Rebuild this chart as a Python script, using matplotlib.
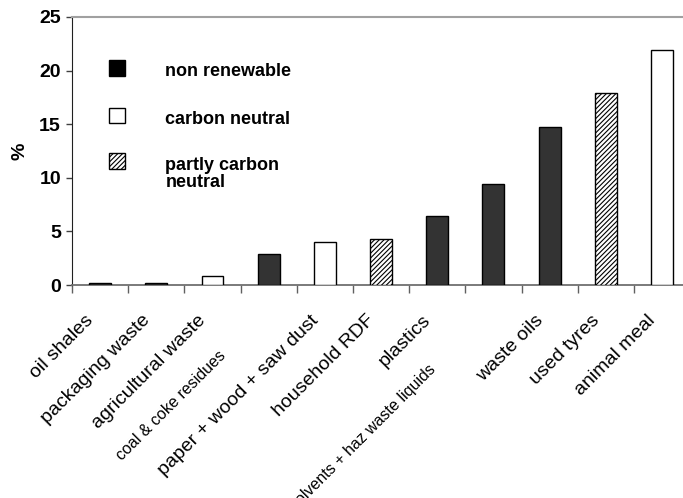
"""bar chart of alternative fuel shares"""
import matplotlib.pyplot as plt
import numpy as np
from matplotlib import font_manager
from matplotlib.patches import Rectangle
from matplotlib.transforms import ScaledTranslation

plt.rcParams["font.family"] = ["Liberation Sans", "DejaVu Sans"]
plt.rcParams["hatch.linewidth"] = 0.8

CATEGORIES = [
    "oil shales",
    "packaging waste",
    "agricultural waste",
    "coal & coke residues",
    "paper + wood + saw dust",
    "household RDF",
    "plastics",
    "solvents + haz waste liquids",
    "waste oils",
    "used tyres",
    "animal meal",
]
VALUES = [0.2, 0.2, 0.8, 2.9, 4.0, 4.3, 6.4, 9.4, 14.7, 17.9, 21.9]
# 0 = non renewable, 1 = carbon neutral, 2 = partly carbon neutral
KIND = [0, 0, 1, 0, 1, 2, 0, 0, 0, 2, 1]
LEGEND = ["non renewable", "carbon neutral", "partly carbon\nneutral"]
# labels pushed further down-left (and printed cramped) in the original: index -> inches
DROPPED = {3: 0.36, 7: 0.50}

FACE = {0: "#333333", 1: "white", 2: "white"}
HATCH = {0: None, 1: None, 2: "///////"}

names = {f.name for f in font_manager.fontManager.ttflist}
narrow = "Liberation Sans Narrow" if "Liberation Sans Narrow" in names else None

fig = plt.figure(figsize=(6.83, 4.98), dpi=100)
ax = fig.add_axes([0.1054, 0.4277, 0.905, 0.5382])

x = np.arange(len(VALUES))
for xi, val, kind in zip(x, VALUES, KIND):
    ax.bar(xi, val, width=0.39, color=FACE[kind], edgecolor="black",
           hatch=HATCH[kind], linewidth=1.0, zorder=3)

ax.set_xlim(-0.5, len(VALUES) - 0.5)
ax.set_ylim(0, 25)
ax.set_yticks(np.arange(0, 26, 5))
ax.set_yticklabels([str(v) for v in range(0, 26, 5)], fontsize=14, fontweight="bold")
ax.set_ylabel("%", fontsize=14, fontweight="bold", labelpad=8)
ax.tick_params(axis="y", length=4, width=1, color="#404040", pad=4)

# ticks sit between categories, labels at bar centres
ax.set_xticks(np.arange(len(VALUES) + 1) - 0.5)
ax.set_xticklabels([])
ax.set_xticks(x, minor=True)
ax.set_xticklabels(CATEGORIES, minor=True, rotation=45, ha="right",
                   va="top", rotation_mode="anchor", fontsize=14)
ax.tick_params(axis="x", which="major", length=6, width=1, color="#606060")
ax.tick_params(axis="x", which="minor", length=0, pad=10)

for i, tick in enumerate(ax.xaxis.get_minor_ticks()):
    lab = tick.label1
    drop = DROPPED.get(i, 0.0)
    shift = ScaledTranslation(-0.15 - drop, -0.13 - drop, fig.dpi_scale_trans)
    lab.set_transform(lab.get_transform() + shift)
    if i in DROPPED:
        if narrow:
            lab.set_family(narrow)
        else:
            lab.set_fontsize(11.5)

ax.spines["right"].set_visible(False)
ax.spines["top"].set_color("#a0a0a0")
ax.spines["top"].set_linewidth(1.5)
ax.spines["left"].set_color("#202020")
ax.spines["bottom"].set_color("#707070")
ax.spines["bottom"].set_linewidth(1.3)

# legend drawn by hand to match the original layout
rows = [0.810, 0.632, 0.462]
for (kind, label), yc in zip(enumerate(LEGEND), rows):
    ax.add_patch(Rectangle((0.060, yc - 0.029), 0.026, 0.058, transform=ax.transAxes,
                           facecolor="black" if kind == 0 else "white",
                           edgecolor="black", hatch=HATCH[kind], linewidth=1.0, zorder=4))
    ax.text(0.151, yc + 0.017, label, transform=ax.transAxes, fontsize=13,
            fontweight="bold", va="top", ha="left", linespacing=1.05)

fig.savefig("out.png", dpi=100)
